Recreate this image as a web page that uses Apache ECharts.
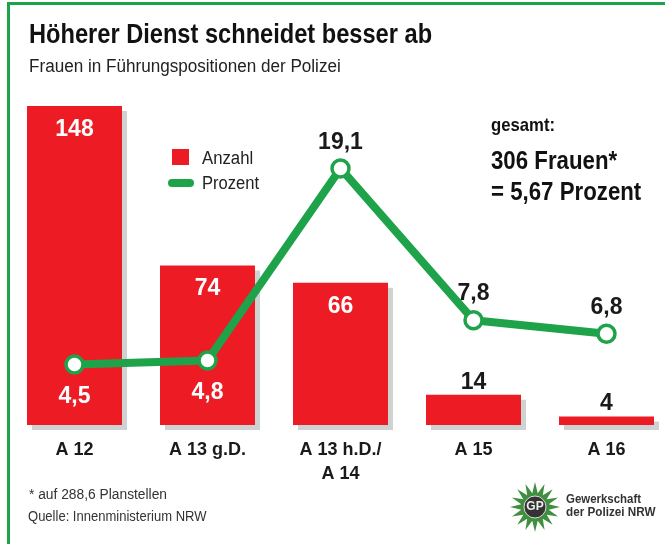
<!DOCTYPE html>
<html>
<head>
<meta charset="utf-8">
<style>
html, body { margin: 0; padding: 0; background: #fff; }
#chart { width: 665px; height: 544px; }
</style>
<script src="https://cdn.jsdelivr.net/npm/echarts@6/dist/echarts.min.js"></script>
</head>
<body>
<div id="chart"></div>
<script>
var categories = ['A 12', 'A 13 g.D.', 'A 13 h.D./\nA 14', 'A 15', 'A 16'];
var anzahl = [148, 74, 66, 14, 4];
var prozent = [4.5, 4.8, 19.1, 7.8, 6.8];

var RED = '#ed1c24';
var GREEN = '#1fa34a';
var FONT = '"Liberation Sans", sans-serif';

// bars: big ones carry the number inside, small ones on top
var barData = anzahl.map(function (v) {
    var inside = v > 20;
    return {
        value: v,
        label: {
            position: inside ? 'insideTop' : 'top',
            distance: inside ? 12 : 1,
            color: inside ? '#fff' : '#1a1a1a'
        }
    };
});

// first two percent labels sit below the point, in white on the bar
var lineData = prozent.map(function (v, i) {
    var below = i < 2;
    return {
        value: v,
        label: {
            position: below ? 'bottom' : 'top',
            distance: below ? 10 : 4.5,
            color: below ? '#fff' : '#1a1a1a'
        }
    };
});

function comma(params) {
    return String(params.value).replace('.', ',');
}

// narrow look: the installed fonts have no condensed cut, so squeeze the text
function txt(x, y, text, font, fill, sx) {
    return { type: 'text', x: x, y: y, scaleX: sx, style: { text: text, font: font + ' ' + FONT, fill: fill } };
}

// police star of the logo
function starPoints(cx, cy, n, r1, r2) {
    var pts = [];
    for (var i = 0; i < n * 2; i++) {
        var r = i % 2 ? r2 : r1;
        var a = Math.PI * i / n - Math.PI / 2;
        pts.push([cx + r * Math.cos(a), cy + r * Math.sin(a)]);
    }
    return pts;
}

var chart = echarts.init(document.getElementById('chart'), null, { renderer: 'canvas' });
chart.setOption({
    backgroundColor: '#fff',
    animation: false,
    grid: { left: 8, top: 106, width: 665, height: 319, outerBoundsMode: 'none' },
    xAxis: {
        type: 'category',
        data: categories,
        axisLine: { show: false },
        axisTick: { show: false },
        axisLabel: {
            interval: 0,
            margin: 13,
            lineHeight: 24,
            fontFamily: FONT,
            fontWeight: 'bold',
            fontSize: 18,
            color: '#1a1a1a'
        }
    },
    yAxis: [
        { type: 'value', min: 0, max: 148, show: false },
        { type: 'value', min: 0, max: 23.75, show: false }
    ],
    series: [{
        name: 'Anzahl',
        type: 'bar',
        barWidth: 95,
        data: barData,
        itemStyle: {
            color: RED,
            shadowColor: '#cfd2d2',
            shadowOffsetX: 5,
            shadowOffsetY: 5,
            shadowBlur: 0
        },
        label: {
            show: true,
            fontFamily: FONT,
            fontWeight: 'bold',
            fontSize: 23
        }
    }, {
        name: 'Prozent',
        type: 'line',
        yAxisIndex: 1,
        data: lineData,
        symbol: 'circle',
        symbolSize: 17,
        showSymbol: true,
        lineStyle: { color: GREEN, width: 8 },
        itemStyle: { color: '#fff', borderColor: GREEN, borderWidth: 3.5 },
        label: {
            show: true,
            formatter: comma,
            fontFamily: FONT,
            fontWeight: 'bold',
            fontSize: 23
        },
        z: 5
    }],
    graphic: [
        // green frame
        { type: 'polyline', shape: { points: [[8.5, 544], [8.5, 3.5], [665, 3.5]] }, style: { fill: null, stroke: GREEN, lineWidth: 3 } },
        txt(29, 22, 'Höherer Dienst schneidet besser ab', 'bold 27px', '#111', 0.875),
        txt(29, 58, 'Frauen in Führungspositionen der Polizei', '18px', '#222', 0.95),
        // legend
        { type: 'rect', shape: { x: 172, y: 149, width: 17, height: 16 }, style: { fill: RED } },
        txt(202, 150, 'Anzahl', '18px', '#222', 0.93),
        { type: 'line', shape: { x1: 172, y1: 183, x2: 190, y2: 183 }, style: { stroke: GREEN, lineWidth: 8, lineCap: 'round' } },
        txt(202, 175, 'Prozent', '18px', '#222', 0.92),
        // totals
        txt(491, 116, 'gesamt:', 'bold 19px', '#111', 0.88),
        txt(491, 150, '306 Frauen*', 'bold 25px', '#111', 0.89),
        txt(491, 181, '= 5,67 Prozent', 'bold 25px', '#111', 0.89),
        // footnotes
        txt(29, 488, '* auf 288,6 Planstellen', '14px', '#333', 0.985),
        txt(28, 510, 'Quelle: Innenministerium NRW', '14px', '#333', 0.93),
        // logo
        { type: 'polygon', shape: { points: starPoints(535, 507, 16, 25, 14) }, style: { fill: '#3f8f3f' } },
        { type: 'circle', shape: { cx: 535, cy: 507, r: 11 }, style: { fill: '#333', stroke: '#ddd', lineWidth: 1 } },
        { type: 'text', x: 535, y: 507, style: { text: 'GP', font: 'bold 12px ' + FONT, fill: '#eee', align: 'center', verticalAlign: 'middle' } },
        txt(566, 493, 'Gewerkschaft', 'bold 13px', '#333', 0.88),
        txt(566, 506, 'der Polizei NRW', 'bold 13px', '#333', 0.9)
    ]
});
</script>
</body>
</html>
